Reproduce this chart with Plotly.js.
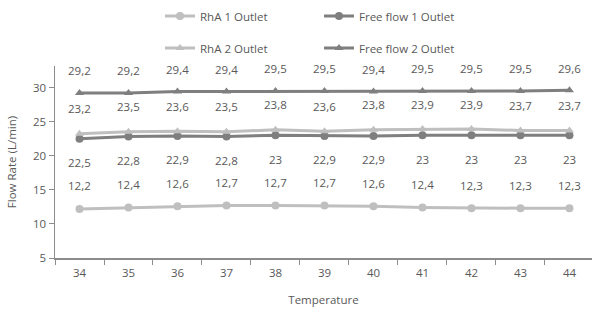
<!DOCTYPE html>
<html>
<head>
<meta charset="utf-8">
<script src="https://cdn.plot.ly/plotly-3.0.1.min.js"></script>
<style>html,body{margin:0;padding:0;background:#fff;}#chart{width:592px;height:309px;}</style>
</head>
<body>
<div id="chart"></div>
<script>
const temperatures = ['34','35','36','37','38','39','40','41','42','43','44'];
const rha1Outlet = [12.2, 12.4, 12.6, 12.7, 12.7, 12.7, 12.6, 12.4, 12.3, 12.3, 12.3];
const freeFlow1Outlet = [22.5, 22.8, 22.9, 22.8, 23, 22.9, 22.9, 23, 23, 23, 23];
const rha2Outlet = [23.2, 23.5, 23.6, 23.5, 23.8, 23.6, 23.8, 23.9, 23.9, 23.7, 23.7];
const freeFlow2Outlet = [29.2, 29.2, 29.4, 29.4, 29.5, 29.5, 29.4, 29.5, 29.5, 29.5, 29.6];
const seriesNames = ['RhA 1 Outlet', 'Free flow 1 Outlet', 'RhA 2 Outlet', 'Free flow 2 Outlet'];

const light = '#BFBFBF', dark = '#7F7F7F', textColor = '#595959';
const fontFam = '"Open Sans", "Noto Sans", sans-serif';

function mk(name, y, color, symbol, legend) {
  return {
    x: temperatures, y: y, name: name, type: 'scatter', mode: 'lines+markers',
    line: {color: color, width: 3},
    marker: {color: color, size: 8, symbol: symbol},
    legend: legend
  };
}
const traces = [
  mk(seriesNames[0], rha1Outlet, light, 'circle', 'legend'),
  mk(seriesNames[1], freeFlow1Outlet, dark, 'circle', 'legend'),
  mk(seriesNames[2], rha2Outlet, light, 'triangle-up', 'legend2'),
  mk(seriesNames[3], freeFlow2Outlet, dark, 'triangle-up', 'legend2')
];

const fmt = v => String(v).replace('.', ',');
const annotations = [];
function addLabels(arr, shift) {
  arr.forEach((v, i) => annotations.push({
    x: i, y: v, xref: 'x', yref: 'y', text: fmt(v), showarrow: false,
    yshift: shift, font: {family: fontFam, size: 11.5, color: textColor}
  }));
}
addLabels(freeFlow2Outlet, 22);
addLabels(rha2Outlet, 25);
addLabels(freeFlow1Outlet, -24);
addLabels(rha1Outlet, 23);

const legendCommon = {
  orientation: 'h', xref: 'container', yref: 'container', xanchor: 'left', yanchor: 'middle',
  font: {family: fontFam, size: 11.5, color: textColor}, bgcolor: 'rgba(0,0,0,0)',
  entrywidth: 114
};

const layout = {
  width: 592, height: 309,
  margin: {l: 55, r: 0, t: 66, b: 51, pad: 0},
  paper_bgcolor: '#fff', plot_bgcolor: '#fff',
  font: {family: fontFam, size: 11, color: textColor},
  showlegend: true,
  legend: Object.assign({}, legendCommon, {x: 160/592, y: 1 - 16/309}),
  legend2: Object.assign({}, legendCommon, {x: 160/592, y: 1 - 48/309}),
  xaxis: {
    type: 'category', range: [-0.5, 10.46], tickson: 'boundaries', ticks: 'outside', ticklen: 5,
    tickcolor: '#8C8C8C', showline: true, linecolor: '#8C8C8C', linewidth: 1.5, showgrid: false,
    zeroline: false, tickfont: {family: fontFam, size: 11.5, color: textColor}, ticklabelstandoff: 4,
    title: {text: 'Temperature', font: {family: fontFam, size: 11.5, color: textColor}, standoff: 16},
    automargin: false
  },
  yaxis: {
    range: [5, 33.15], tickvals: [5, 10, 15, 20, 25, 30], ticks: 'outside', ticklen: 5,
    tickcolor: '#8C8C8C', showline: true, linecolor: '#8C8C8C', linewidth: 1.5, showgrid: false,
    zeroline: false, tickfont: {family: fontFam, size: 11.5, color: textColor},
    title: {text: 'Flow Rate (L/min)', font: {family: fontFam, size: 11.5, color: textColor}, standoff: 14},
    automargin: false
  },
  annotations: annotations
};

Plotly.newPlot('chart', traces, layout, {displayModeBar: false, staticPlot: true})
  .catch(e => { document.body.insertAdjacentHTML('beforeend', '<pre>' + e + '</pre>'); });
</script>
</body>
</html>
